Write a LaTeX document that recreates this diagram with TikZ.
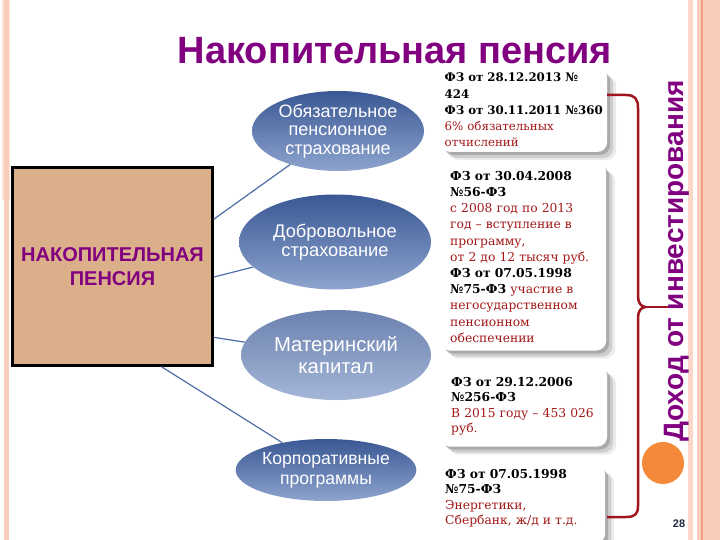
\documentclass[tikz,border=0pt]{standalone}
\usepackage{fontspec}
\setmainfont{DejaVu Serif}
\newfontfamily\arial{Liberation Sans}
\usepackage{xcolor}
\definecolor{title-purple}{HTML}{800080}
\definecolor{box-tan}{HTML}{DBAF89}
\definecolor{law-red}{HTML}{A31818}
\definecolor{brace-red}{HTML}{A0141E}
\definecolor{link-blue}{HTML}{4F6DA6}
\definecolor{ell-dark}{HTML}{3A5894}
\definecolor{ell-light}{HTML}{8EA4CE}
\definecolor{frame-pink}{HTML}{F9CDBB}
\definecolor{frame-orange}{HTML}{EFA07E}
\definecolor{dot-orange}{HTML}{F5893A}
\definecolor{page-navy}{HTML}{1F2A44}
\usetikzlibrary{shapes.geometric}
\usetikzlibrary{shadows}
\tikzset{mainbox/.style = {draw, line width=2.2pt, fill=box-tan, align=center, text=title-purple, minimum width=200pt, minimum height=198pt, font=\arial\bfseries\fontsize{20}{24}\selectfont}}
\tikzset{kind/.style = {ellipse, inner sep=0pt, align=center, text=white, top color=ell-dark, bottom color=ell-light}}
\tikzset{lawbox/.style = {anchor=north west, rounded corners=10pt, fill=white, align=left, inner ysep=5pt, font=\fontsize{12.3}{16.2}\selectfont,
  drop shadow={shadow xshift=3pt, shadow yshift=-3pt, opacity=.18, fill=black},
  drop shadow={shadow xshift=6pt, shadow yshift=-6pt, opacity=.12, fill=black},
  drop shadow={shadow xshift=9pt, shadow yshift=-8pt, opacity=.08, fill=black}}}
\tikzset{link/.style = {draw=link-blue, line width=1.2pt}}
\newcommand{\rd}[1]{{\color{law-red}#1}}

\begin{document}
\begin{tikzpicture}[x=1pt, y=-1pt]
\useasboundingbox (0,0) rectangle (720,540);

% frame of the slide
\fill[frame-pink!60] (2,0) rectangle (10,200);
\fill[frame-pink] (4,0) rectangle (9,540);
\fill[frame-pink!80] (688,0) rectangle (693,540);
\fill[frame-pink] (697,0) rectangle (720,540);
\draw[frame-orange, line width=1.2pt] (702,0) -- (702,540);

\node[text=title-purple, font=\arial\bfseries\fontsize{38}{40}\selectfont] (title) at (395,51) {Накопительная пенсия};

\node[mainbox] (nak) at (112.5,266.5) {НАКОПИТЕЛЬНАЯ\\ПЕНСИЯ};

\node[kind, minimum width=172pt, minimum height=80pt, font=\arial\fontsize{18}{18.5}\selectfont] (obyaz) at (338,131) {Обязательное\\пенсионное\\страхование};
\node[kind, minimum width=192pt, minimum height=95pt, font=\arial\fontsize{18.3}{19}\selectfont] (dobr) at (335,242) {Добровольное\\страхование};
\node[kind, minimum width=190pt, minimum height=90pt, top color=ell-dark!75, bottom color=ell-light!80, font=\arial\fontsize{20.3}{22}\selectfont] (mat) at (336,355) {Материнский\\капитал};
\node[kind, minimum width=164pt, minimum height=62pt, font=\arial\fontsize{17.6}{20}\selectfont] (korp) at (326,470) {Корпоративные\\программы};

\draw[link] (nak.25) -- (obyaz.215);
\draw[link] (nak.-6) -- (dobr.197);
\draw[link] (nak.-35) -- (mat.172);
\draw[link] (nak.-64) -- (korp.148);

\node[lawbox, text width=158pt, inner xsep=4.5pt, inner ysep=5pt, font=\fontsize{11.8}{16.2}\selectfont] (law1) at (440,68) {%
  \textbf{ФЗ от 28.12.2013 №}\\
  \textbf{424}\\
  \mbox{\textbf{ФЗ от 30.11.2011 №360}}\\
  \rd{6\% обязательных}\\
  \rd{отчислений}};
\node[lawbox, text width=146pt, inner xsep=10pt, inner ysep=8pt] (law2) at (440,163) {%
  \textbf{ФЗ от 30.04.2008}\\
  \textbf{№56-ФЗ}\\
  \rd{с 2008 год по 2013}\\
  \rd{год – вступление в}\\
  \rd{программу,}\\
  \rd{от 2 до 12 тысяч руб.}\\
  \textbf{ФЗ от 07.05.1998}\\
  \textbf{№75-ФЗ} \rd{участие в}\\
  \rd{негосударственном}\\
  \rd{пенсионном}\\
  \rd{обеспечении}};
\node[lawbox, text width=145pt, inner xsep=11pt, inner ysep=11pt, font=\fontsize{12.3}{15.5}\selectfont] (law3) at (440,366) {%
  \textbf{ФЗ от 29.12.2006}\\
  \textbf{№256-ФЗ}\\
  \rd{В 2015 году – 453 026}\\
  \rd{руб.}};
\node[lawbox, text width=155pt, inner xsep=5pt, inner ysep=4pt, text depth=61pt, font=\fontsize{12.3}{15.5}\selectfont] (law4) at (440,465) {%
  \textbf{ФЗ от 07.05.1998}\\
  \textbf{№75-ФЗ}\\
  \rd{Энергетики,}\\
  \rd{Сбербанк, ж/д и т.д.}};

% brace joining the four laws
\draw[brace-red, line width=2.5pt, line join=round]
  (607,95) -- (626,95) .. controls (635,95) and (638,99) .. (638,108)
  -- (638,296) .. controls (638,303) and (641,307) .. (646,307)
  .. controls (641,307) and (638,311) .. (638,318)
  -- (638,506) .. controls (638,514) and (635,517) .. (626,517) -- (607,517);
\draw[brace-red, line width=2.5pt] (646,307) -- (670,307);

\node[rotate=90, text=title-purple, font=\arial\bfseries\fontsize{28}{30}\selectfont] (dohod) at (677,261) {Доход от инвестирования};

\node[circle, fill=dot-orange, minimum size=42pt, inner sep=0pt] (dot) at (663,463) {};
\node[text=page-navy, font=\arial\bfseries\fontsize{11}{12}\selectfont] (page) at (679,524) {28};

\end{tikzpicture}
\end{document}
